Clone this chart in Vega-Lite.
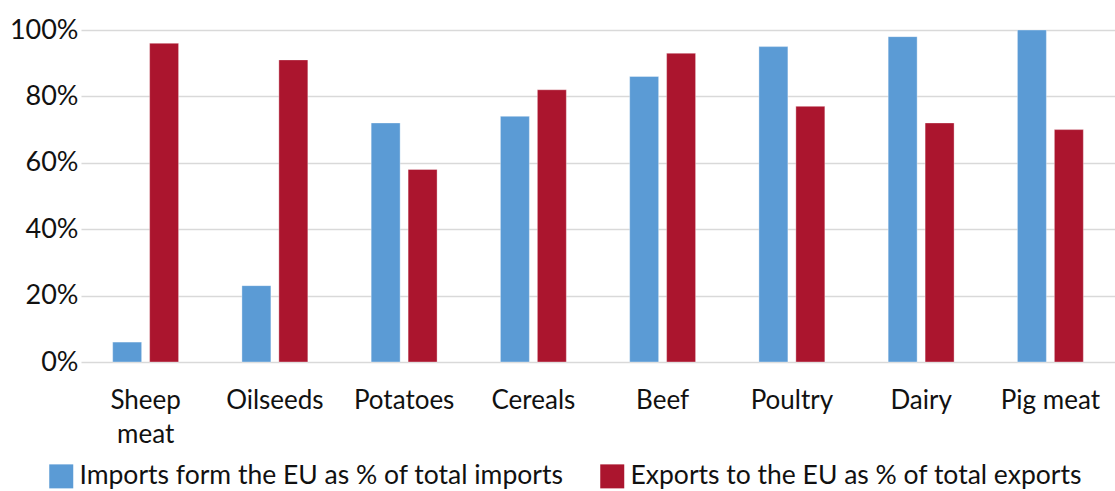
{
  "$schema": "https://vega.github.io/schema/vega-lite/v6.json",
  "width": 1034,
  "height": 332,
  "autosize": {"type": "none"},
  "padding": {"top": 30, "left": 81, "right": 0, "bottom": 129},
  "config": {
    "font": "Lato",
    "view": {"stroke": null},
    "axis": {"labelFont": "Lato", "labelColor": "#111111"},
    "legend": {"labelFont": "Lato"}
  },
  "data": {
    "values": [
      {"product": "Sheep meat", "series": "Imports form the EU as % of total imports", "value": 6},
      {"product": "Sheep meat", "series": "Exports to the EU as % of total exports", "value": 96},
      {"product": "Oilseeds", "series": "Imports form the EU as % of total imports", "value": 23},
      {"product": "Oilseeds", "series": "Exports to the EU as % of total exports", "value": 91},
      {"product": "Potatoes", "series": "Imports form the EU as % of total imports", "value": 72},
      {"product": "Potatoes", "series": "Exports to the EU as % of total exports", "value": 58},
      {"product": "Cereals", "series": "Imports form the EU as % of total imports", "value": 74},
      {"product": "Cereals", "series": "Exports to the EU as % of total exports", "value": 82},
      {"product": "Beef", "series": "Imports form the EU as % of total imports", "value": 86},
      {"product": "Beef", "series": "Exports to the EU as % of total exports", "value": 93},
      {"product": "Poultry", "series": "Imports form the EU as % of total imports", "value": 95},
      {"product": "Poultry", "series": "Exports to the EU as % of total exports", "value": 77},
      {"product": "Dairy", "series": "Imports form the EU as % of total imports", "value": 98},
      {"product": "Dairy", "series": "Exports to the EU as % of total exports", "value": 72},
      {"product": "Pig meat", "series": "Imports form the EU as % of total imports", "value": 100},
      {"product": "Pig meat", "series": "Exports to the EU as % of total exports", "value": 70}
    ]
  },
  "mark": {"type": "bar", "strokeWidth": 1, "strokeOpacity": 0.35, "stroke": "#ffffff"},
  "encoding": {
    "x": {
      "field": "product",
      "type": "nominal",
      "sort": null,
      "title": null,
      "scale": {"paddingInner": 0.49, "paddingOuter": 0.245},
      "axis": {
        "labelAngle": 0,
        "labelFontSize": 26,
        "labelPadding": 25,
        "ticks": false,
        "domain": false,
        "labelLineHeight": 34,
        "labelExpr": "datum.label == 'Sheep meat' ? ['Sheep', 'meat'] : datum.label"
      }
    },
    "xOffset": {
      "field": "series",
      "type": "nominal",
      "sort": ["Imports form the EU as % of total imports", "Exports to the EU as % of total exports"],
      "scale": {"paddingInner": 0.216, "paddingOuter": 0}
    },
    "y": {
      "field": "value",
      "type": "quantitative",
      "title": null,
      "scale": {"domain": [0, 100]},
      "axis": {
        "values": [0, 20, 40, 60, 80, 100],
        "labelExpr": "datum.value + '%'",
        "labelFontSize": 27,
        "labelPadding": 3,
        "ticks": false,
        "domain": false,
        "gridColor": "#d9d9d9",
        "gridWidth": 1.5
      }
    },
    "color": {
      "field": "series",
      "type": "nominal",
      "sort": ["Imports form the EU as % of total imports", "Exports to the EU as % of total exports"],
      "scale": {
        "domain": ["Imports form the EU as % of total imports", "Exports to the EU as % of total exports"],
        "range": ["#5b9bd5", "#ab152e"]
      },
      "legend": {
        "orient": "none",
        "legendX": -33,
        "legendY": 433,
        "direction": "horizontal",
        "title": null,
        "padding": 0,
        "symbolType": "square",
        "symbolSize": 576,
        "symbolStrokeWidth": 0,
        "labelFontSize": 26.5,
        "labelOffset": 5,
        "labelColor": "#111111",
        "labelLimit": 700,
        "columnPadding": 35
      }
    }
  }
}
